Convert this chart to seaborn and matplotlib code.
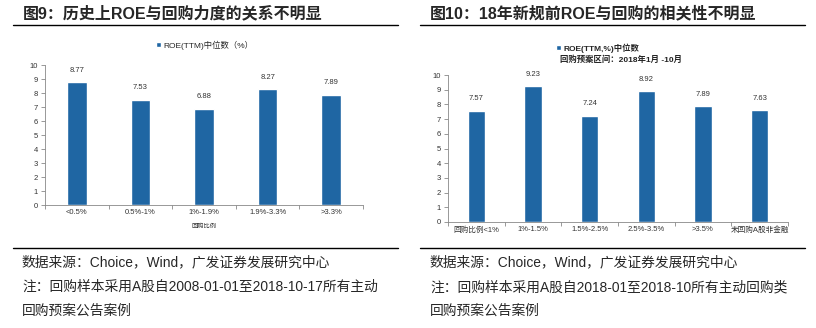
import matplotlib
matplotlib.use("Agg")
import matplotlib.pyplot as plt
import seaborn as sns
from matplotlib.lines import Line2D

sns.set_style("white")
plt.rcParams['font.family'] = ['Liberation Sans', 'Noto Sans CJK SC', 'DejaVu Sans']

# ---- data ----
left_title = "图9：历史上ROE与回购力度的关系不明显"
left_cats = ["<0.5%", "0.5%-1%", "1%-1.9%", "1.9%-3.3%", ">3.3%"]
left_vals = [8.77, 7.53, 6.88, 8.27, 7.89]
left_legend = "ROE(TTM)中位数（%）"
left_xlabel = "回购比例"

right_title = "图10：18年新规前ROE与回购的相关性不明显"
right_cats = ["回购比例<1%", "1%-1.5%", "1.5%-2.5%", "2.5%-3.5%", ">3.5%", "未回购A股非金融"]
right_vals = [7.57, 9.23, 7.24, 8.92, 7.89, 7.63]
right_legend = "ROE(TTM,%)中位数"
right_legend2 = "回购预案区间：2018年1月 -10月"

yticks = list(range(0, 11))
source = "数据来源：Choice，Wind，广发证券发展研究中心"
left_note1 = "注：回购样本采用A股自2008-01-01至2018-10-17所有主动"
right_note1 = "注：回购样本采用A股自2018-01至2018-10所有主动回购类"
note2 = "回购预案公告案例"

BAR = "#1F66A3"
W, H = 816, 328
fig = plt.figure(figsize=(W / 100, H / 100), dpi=100)
fig.patch.set_facecolor("white")


def px_axes(x0, x1, ytop, ybot):
    return fig.add_axes([x0 / W, 1 - ybot / H, (x1 - x0) / W, (ybot - ytop) / H])


def draw(ax, cats, vals, label):
    sns.barplot(x=cats, y=vals, color=BAR, width=0.31, ax=ax, label=label,
                saturation=1)
    ax.set_ylim(0, 10)
    ax.set_xlim(-0.5, len(cats) - 0.5)
    ax.set_yticks(yticks)
    ax.tick_params(axis='y', labelsize=5.5, length=3, width=0.6, color="#888888",
                   pad=2, labelcolor="#333333", left=True)
    ax.set_xticks(range(len(cats)))
    ax.set_xticklabels(cats)
    ax.tick_params(axis='x', labelsize=5.5, length=0, pad=3, labelcolor="#333333")
    # boundary tick marks
    ax.set_xticks([i - 0.5 for i in range(len(cats) + 1)], minor=True)
    ax.tick_params(axis='x', which='minor', length=3, width=0.6, color="#888888",
                   bottom=True)
    for s in ["top", "right"]:
        ax.spines[s].set_visible(False)
    for s in ["left", "bottom"]:
        ax.spines[s].set_color("#888888")
        ax.spines[s].set_linewidth(0.6)
    for c in ax.containers:
        ax.bar_label(c, labels=[f"{v:.2f}" for v in vals], fontsize=5.5,
                     padding=6, color="#333333")
    ax.set_ylabel("")
    ax.set_xlabel("")


# left chart
axL = px_axes(45, 363, 65, 205)
draw(axL, left_cats, left_vals, left_legend)
axL.legend(loc="center", bbox_to_anchor=((205 - 45) / 318, 1 + 20 / 140), frameon=False,
           fontsize=6, handlelength=0.6, handleheight=0.6, handletextpad=0.3)
axL.set_xlabel(left_xlabel, fontsize=4.5, color="#333333", labelpad=5)

# right chart
axR = px_axes(448, 788, 75, 222)
draw(axR, right_cats, right_vals, right_legend)
leg = axR.legend(loc="center", bbox_to_anchor=((598 - 448) / 340, 1 + 27 / 147), frameon=False,
                 prop={'size': 6, 'weight': 'bold'}, handlelength=0.6, handleheight=0.6,
                 handletextpad=0.3)
fig.text(560 / W, 1 - 60 / H, right_legend2, fontsize=6, fontweight='bold',
         va='center', ha='left', color="#222222")

# titles and rules
fig.text(23 / W, 1 - 13 / H, left_title, fontsize=11.5, fontweight='bold', va='center', ha='left')
fig.text(430 / W, 1 - 13 / H, right_title, fontsize=11.5, fontweight='bold', va='center', ha='left')
for (a, b) in [(13, 398), (420, 805)]:
    for y in [25, 248]:
        fig.add_artist(Line2D([a / W, b / W], [1 - y / H, 1 - y / H], color="black", lw=1.0))

# footnotes
for x, n1 in [(22, left_note1), (430, right_note1)]:
    fig.text(x / W, 1 - 262 / H, source, fontsize=9.9, va='center', ha='left')
    fig.text(x / W, 1 - 287 / H, n1, fontsize=9.9, va='center', ha='left')
    fig.text(x / W, 1 - 311 / H, note2, fontsize=9.9, va='center', ha='left')

fig.savefig("out.png", dpi=100, facecolor="white")
